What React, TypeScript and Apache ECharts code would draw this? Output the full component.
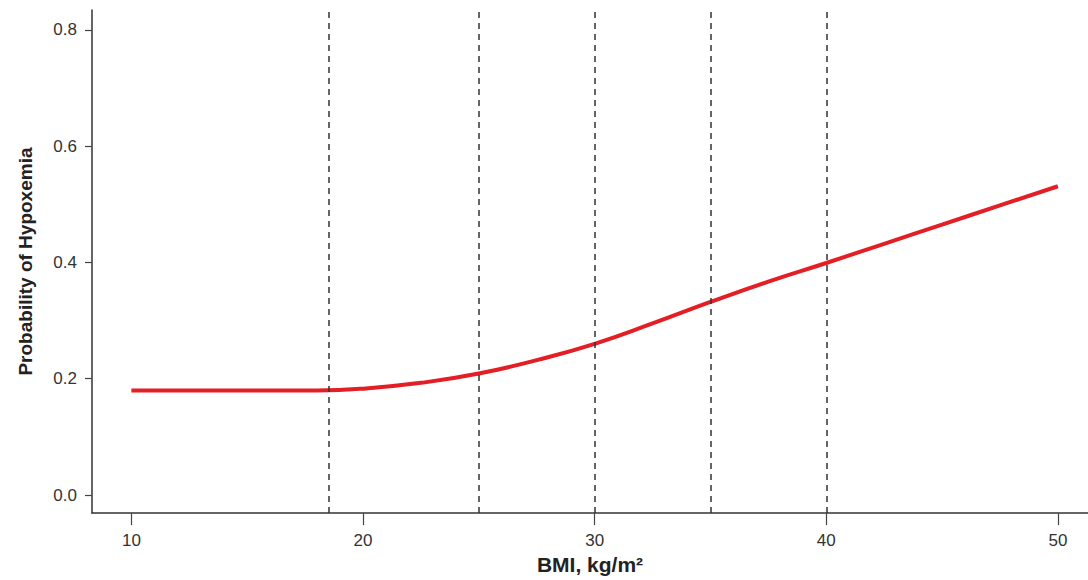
import React, { useEffect, useRef } from "react";
import * as echarts from "echarts";

const bmiValues = [10, 12, 14, 16, 18, 20, 22.5, 25, 27.5, 30, 32.5, 35, 37.5, 40, 42.5, 45, 47.5, 50];
const probValues = [0.18, 0.18, 0.18, 0.18, 0.18, 0.183, 0.193, 0.209, 0.232, 0.26, 0.295, 0.332, 0.367, 0.399, 0.432, 0.465, 0.498, 0.531];
const cutoffs = [18.5, 25, 30, 35, 40];
const xTicks = [10, 20, 30, 40, 50];
const yTicks = [0, 0.2, 0.4, 0.6, 0.8];

const FONT = '"Liberation Sans", Arial, sans-serif';

export default function App() {
  const ref = useRef<HTMLDivElement>(null);
  useEffect(() => {
    if (!ref.current) return;
    const chart = echarts.init(ref.current, null, { renderer: "svg" });
    chart.setOption({
      animation: false,
      backgroundColor: "#ffffff",
      grid: { left: 92, right: 0, top: 10, bottom: 65, containLabel: false },
      xAxis: {
        type: "value",
        min: 8.3,
        max: 51.3,
        name: "BMI, kg/m²",
        nameLocation: "middle",
        nameGap: 38,
        nameTextStyle: { fontFamily: FONT, fontWeight: "bold", fontSize: 21, color: "#222" },
        axisLine: { show: true, onZero: false, lineStyle: { color: "#333", width: 1.5 } },
        axisTick: { show: true, length: 12, customValues: xTicks, lineStyle: { color: "#444", width: 1.2 } },
        axisLabel: { customValues: xTicks, fontFamily: FONT, fontSize: 17, color: "#333", margin: 19 },
        splitLine: { show: false },
      },
      yAxis: {
        type: "value",
        min: -0.031,
        max: 0.834,
        name: "Probability of Hypoxemia",
        nameLocation: "middle",
        nameGap: 57,
        nameRotate: 90,
        nameTextStyle: { fontFamily: FONT, fontWeight: "bold", fontSize: 19, color: "#222" },
        axisLine: { show: true, onZero: false, lineStyle: { color: "#333", width: 1.5 } },
        axisTick: { show: true, length: 7, customValues: yTicks, lineStyle: { color: "#444", width: 1.2 } },
        axisLabel: {
          customValues: yTicks,
          fontFamily: FONT,
          fontSize: 17,
          color: "#333",
          margin: 15,
          formatter: (v: number) => v.toFixed(1),
        },
        splitLine: { show: false },
      },
      series: [
        {
          type: "line",
          data: bmiValues.map((b, i) => [b, probValues[i]]),
          smooth: 0.5,
          showSymbol: false,
          lineStyle: { color: "#e31e24", width: 4 },
          markLine: {
            silent: true,
            symbol: "none",
            label: { show: false },
            lineStyle: { color: "#333", type: [6, 5], width: 1.5 },
            data: cutoffs.map((c) => ({ xAxis: c })),
          },
          z: 3,
        },
      ],
    });
    return () => chart.dispose();
  }, []);
  return (
    <div
      ref={ref}
      style={{ position: "fixed", left: 0, top: 0, width: 1088, height: 580 }}
    />
  );
}
